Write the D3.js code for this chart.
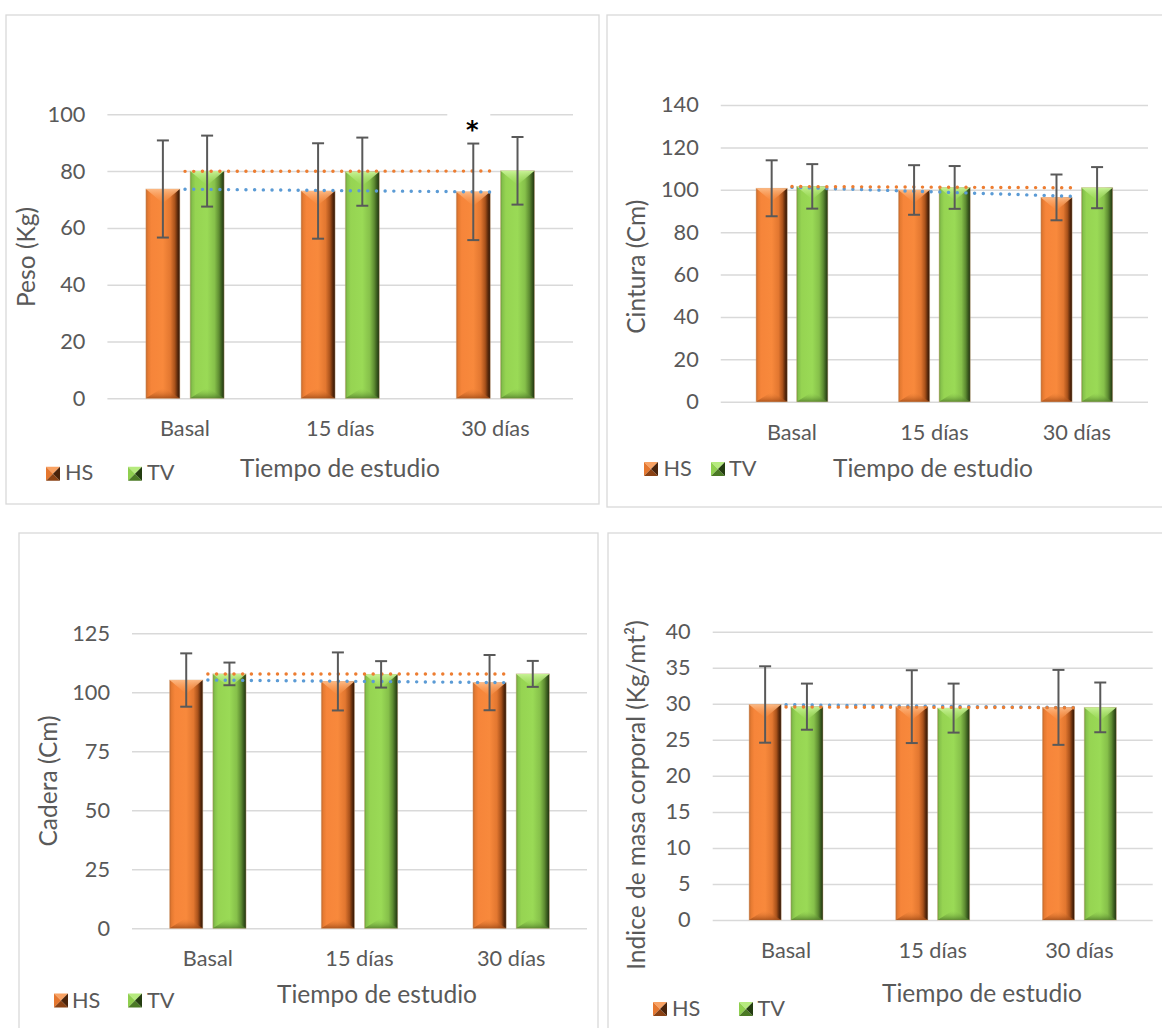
<!DOCTYPE html>
<html><head><meta charset="utf-8">
<script src="https://cdn.jsdelivr.net/npm/d3@7"></script>
<style>body{margin:0;background:#fff} svg{display:block}</style>
</head><body>
<svg id="c" width="1162" height="1028"></svg>
<script>
// ---------- DATA ----------
const categories = ["Basal", "15 días", "30 días"];
const seriesNames = ["HS", "TV"];
const xTitleText = "Tiempo de estudio";

const pesoHS = [73.7, 73.0, 72.7];
const pesoTV = [80.0, 79.8, 80.1];
const pesoHSsd = [17.1, 16.8, 17.0];
const pesoTVsd = [12.5, 12.0, 11.9];
const pesoTicks = [0, 20, 40, 60, 80, 100];

const cinturaHS = [100.7, 99.9, 96.4];
const cinturaTV = [101.6, 101.1, 101.0];
const cinturaHSsd = [13.2, 11.7, 10.8];
const cinturaTVsd = [10.5, 10.1, 9.7];
const cinturaTicks = [0, 20, 40, 60, 80, 100, 120, 140];

const caderaHS = [105.2, 104.6, 104.1];
const caderaTV = [107.8, 107.6, 107.8];
const caderaHSsd = [11.3, 12.3, 11.7];
const caderaTVsd = [4.8, 5.6, 5.5];
const caderaTicks = [0, 25, 50, 75, 100, 125];

const imcHS = [29.9, 29.6, 29.5];
const imcTV = [29.6, 29.4, 29.5];
const imcHSsd = [5.3, 5.05, 5.2];
const imcTVsd = [3.2, 3.4, 3.45];
const imcTicks = [0, 5, 10, 15, 20, 25, 30, 35, 40];

const yTitles = ["Peso (Kg)", "Cintura (Cm)", "Cadera (Cm)", "Indice de masa corporal (Kg/mt²)"];

// ---------- LAYOUT ----------
const layouts = [
  {frame:[6,15,593,489], plot:{l:107.4,r:573,top:114.3,bottom:398.3}, yT:{x:35,y:257}, xT:{x:340,y:476.7},
   leg:{y:466.7, hs:46, hsT:65, tv:128, tvT:147, base:480}},
  {frame:[607,15,600,492], plot:{l:720.75,r:1148,top:105,bottom:401.7}, yT:{x:645,y:266.7}, xT:{x:933,y:476.7},
   leg:{y:462, hs:644, hsT:663.5, tv:711, tvT:729, base:476}},
  {frame:[19,533,579,520], plot:{l:132,r:587,top:633.3,bottom:928.3}, yT:{x:57,y:781}, xT:{x:377,y:1003},
   leg:{y:993.5, hs:54, hsT:72, tv:128, tvT:147, base:1008}},
  {frame:[608,533,600,520], plot:{l:712.7,r:1152.7,top:631.7,bottom:920}, yT:{x:645,y:795}, xT:{x:982,y:1001.7},
   leg:{y:1002, hs:653, hsT:672, tv:739, tvT:757.5, base:1016}}
];

const panels = [
  {hs:pesoHS, tv:pesoTV, hsSd:pesoHSsd, tvSd:pesoTVsd, ticks:pesoTicks, yTitle:yTitles[0], star:true},
  {hs:cinturaHS, tv:cinturaTV, hsSd:cinturaHSsd, tvSd:cinturaTVsd, ticks:cinturaTicks, yTitle:yTitles[1]},
  {hs:caderaHS, tv:caderaTV, hsSd:caderaHSsd, tvSd:caderaTVsd, ticks:caderaTicks, yTitle:yTitles[2]},
  {hs:imcHS, tv:imcTV, hsSd:imcHSsd, tvSd:imcTVsd, ticks:imcTicks, yTitle:yTitles[3]}
];

const FONT = "Lato, 'Open Sans', sans-serif";
const TXT = "#595959";
const svg = d3.select("#c");

// font size calibration against reference text widths
function measure(str, size) {
  const t = svg.append("text").attr("font-family", FONT).attr("font-size", size).text(str);
  const w = t.node().getComputedTextLength(); t.remove(); return w;
}
const titleSize = 100 * 200 / measure(xTitleText, 100);
const tickSize = 100 * 50 / measure("Basal", 100);

// ---------- GRADIENTS ----------
const defs = svg.append("defs");
function hGrad(id, stops) {
  const g = defs.append("linearGradient").attr("id", id).attr("x1", 0).attr("x2", 1).attr("y1", 0).attr("y2", 0);
  stops.forEach(s => g.append("stop").attr("offset", s[0]).attr("stop-color", s[1]));
}
function vGrad(id, stops) {
  const g = defs.append("linearGradient").attr("id", id).attr("x1", 0).attr("x2", 0).attr("y1", 0).attr("y2", 1);
  stops.forEach(s => g.append("stop").attr("offset", s[0]).attr("stop-color", s[1]).attr("stop-opacity", s[2] == null ? 1 : s[2]));
}
hGrad("gO", [[0,"#c0652c"],[0.06,"#e57a31"],[0.16,"#f6853a"],[0.5,"#f8893c"],[0.72,"#e27730"],[0.85,"#a9521b"],[0.93,"#5e2b0c"],[1,"#2e1505"]]);
hGrad("gG", [[0,"#6c9c3c"],[0.06,"#86c24b"],[0.16,"#96d452"],[0.5,"#9ada56"],[0.72,"#86c04a"],[0.85,"#5e8c32"],[0.93,"#3a5a1e"],[1,"#1f3010"]]);
vGrad("tO", [[0,"#fcb984"],[1,"#f8893c",0.35]]);
vGrad("tG", [[0,"#c8f296"],[1,"#9ada56",0.35]]);
vGrad("bO", [[0,"#f8893c",0],[1,"#9e4a16"]]);
vGrad("bG", [[0,"#9ada56",0],[1,"#4f7a2a"]]);

const sty = {HS:{body:"url(#gO)", top:"url(#tO)", bot:"url(#bO)", trend:"#5b9bd5",
                 leg:["#f9a263","#e5772f","#8a4214","#4a230a"]},
             TV:{body:"url(#gG)", top:"url(#tG)", bot:"url(#bG)", trend:"#ed7d31",
                 leg:["#b6ea7e","#8fcf4f","#4b7a25","#243d10"]}};

function linFit(vals) {
  const xs = vals.map((_, i) => i + 1);
  const mx = d3.mean(xs), my = d3.mean(vals);
  const b = d3.sum(xs, (x, i) => (x - mx) * (vals[i] - my)) / d3.sum(xs, x => (x - mx) ** 2);
  return xs.map(x => my + b * (x - mx));
}

panels.forEach((p, pi) => {
  const L = layouts[pi];
  const g = svg.append("g");
  g.append("rect").attr("x", L.frame[0]).attr("y", L.frame[1]).attr("width", L.frame[2]).attr("height", L.frame[3])
    .attr("fill", "#fff").attr("stroke", "#d9d9d9").attr("stroke-width", 1.3);

  const x = d3.scaleBand().domain(categories).range([L.plot.l, L.plot.r]).padding(0);
  const y = d3.scaleLinear().domain([0, d3.max(p.ticks)]).range([L.plot.bottom, L.plot.top]);
  const step = x.step(), bw = step * 0.219, gap = step * 0.066;
  const off = {HS: -(bw / 2 + gap / 2), TV: (bw / 2 + gap / 2)};

  // gridlines
  const grid = g.append("g").attr("transform", `translate(${L.plot.l},0)`)
    .call(d3.axisLeft(y).tickValues(p.ticks).tickSize(-(L.plot.r - L.plot.l)).tickFormat(""));
  grid.select(".domain").remove();
  grid.selectAll("line").attr("stroke", "#d9d9d9").attr("stroke-width", 1.5);

  // y tick labels
  const ya = g.append("g").attr("transform", `translate(${L.plot.l},0)`)
    .call(d3.axisLeft(y).tickValues(p.ticks).tickSize(0).tickPadding(22));
  ya.select(".domain").remove();
  ya.selectAll("text").attr("font-family", FONT).attr("font-size", tickSize).attr("fill", TXT);

  // x tick labels
  const xa = g.append("g").attr("transform", `translate(0,${L.plot.bottom})`)
    .call(d3.axisBottom(x).tickSize(0));
  xa.select(".domain").remove();
  xa.selectAll("text").attr("y", 38).attr("dy", 0).attr("font-family", FONT).attr("font-size", tickSize).attr("fill", TXT);

  if (p.star) {
    const sx = x(categories[2]) + step / 2 + off.HS;
    g.append("rect").attr("x", sx - 26).attr("y", L.plot.top - 6).attr("width", 43).attr("height", 12).attr("fill", "#fff");
    g.append("text").attr("x", sx - 1).attr("y", L.plot.top + 24).attr("text-anchor", "middle")
      .attr("font-family", "'DejaVu Sans', sans-serif").attr("font-weight", "bold").attr("font-size", 24).attr("fill", "#000").text("*");
  }

  // bars
  const sers = [{name:"HS", v:p.hs, sd:p.hsSd}, {name:"TV", v:p.tv, sd:p.tvSd}];
  sers.forEach(s => {
    const st = sty[s.name];
    categories.forEach((c, i) => {
      const cx = x(c) + step / 2 + off[s.name];
      const x0 = cx - bw / 2, x1 = cx + bw / 2, yt = y(s.v[i]), yb = y(0);
      g.append("rect").attr("x", x0).attr("y", yt).attr("width", bw).attr("height", yb - yt)
        .attr("fill", st.body).attr("stroke", "rgba(210,170,130,0.55)").attr("stroke-width", 0.8);
      g.append("path").attr("d", `M${x0},${yt}L${x1},${yt}L${cx},${yt + bw * 0.42}Z`).attr("fill", st.top);
      g.append("path").attr("d", `M${x0},${yb}L${x1},${yb}L${cx},${yb - bw * 0.32}Z`).attr("fill", st.bot).attr("opacity", 0.8);
    });
  });

  // trendlines (linear fit over categories)
  const line = d3.line().x(d => d[0]).y(d => d[1]);
  sers.forEach(s => {
    const fit = linFit(s.v);
    const pts = [[x(categories[0]) + step / 2, y(fit[0])], [x(categories[2]) + step / 2, y(fit[2])]];
    g.append("path").attr("d", line(pts)).attr("fill", "none").attr("stroke", sty[s.name].trend)
      .attr("stroke-width", 3.4).attr("stroke-linecap", "round").attr("stroke-dasharray", "0.1 8.6");
  });

  // error bars
  sers.forEach(s => {
    categories.forEach((c, i) => {
      const cx = x(c) + step / 2 + off[s.name];
      const hi = y(s.v[i] + s.sd[i]), lo = y(s.v[i] - s.sd[i]);
      const eg = g.append("g").attr("stroke", "#595959").attr("stroke-width", 2).attr("fill", "none");
      eg.append("line").attr("x1", cx).attr("x2", cx).attr("y1", hi).attr("y2", lo);
      eg.append("line").attr("x1", cx - 6).attr("x2", cx + 6).attr("y1", hi).attr("y2", hi);
      eg.append("line").attr("x1", cx - 6).attr("x2", cx + 6).attr("y1", lo).attr("y2", lo);
    });
  });

  // axis titles
  g.append("text").attr("x", L.xT.x).attr("y", L.xT.y).attr("text-anchor", "middle")
    .attr("font-family", FONT).attr("font-size", titleSize).attr("fill", TXT).text(xTitleText);
  g.append("text").attr("transform", `translate(${L.yT.x},${L.yT.y}) rotate(-90)`).attr("text-anchor", "middle")
    .attr("font-family", FONT).attr("font-size", titleSize).attr("fill", TXT).text(p.yTitle);

  // legend
  const m = 14;
  [["HS", L.leg.hs, L.leg.hsT], ["TV", L.leg.tv, L.leg.tvT]].forEach(([nm, mx, tx]) => {
    const c = sty[nm].leg, x0 = mx, y0 = L.leg.y, x1 = mx + m, y1 = L.leg.y + m, cxm = mx + m / 2, cym = y0 + m / 2;
    g.append("path").attr("d", `M${x0},${y0}L${x1},${y0}L${cxm},${cym}Z`).attr("fill", c[0]);
    g.append("path").attr("d", `M${x0},${y0}L${cxm},${cym}L${x0},${y1}Z`).attr("fill", c[1]);
    g.append("path").attr("d", `M${x0},${y1}L${cxm},${cym}L${x1},${y1}Z`).attr("fill", c[2]);
    g.append("path").attr("d", `M${x1},${y0}L${cxm},${cym}L${x1},${y1}Z`).attr("fill", c[3]);
    g.append("text").attr("x", tx).attr("y", L.leg.base).attr("font-family", FONT).attr("font-size", tickSize)
      .attr("fill", TXT).text(nm);
  });
});
</script>
</body></html>
